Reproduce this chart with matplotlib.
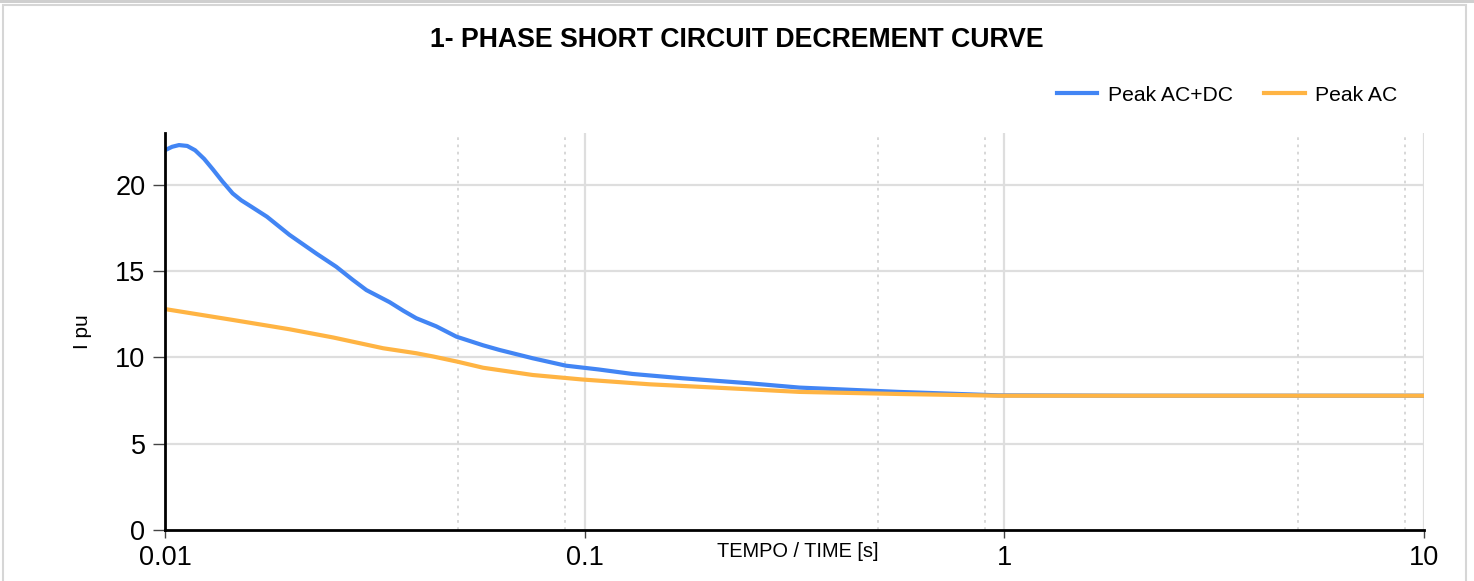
import numpy as np
import matplotlib as mpl
mpl.use('Agg')
from matplotlib import pyplot as plt
from matplotlib.patches import Rectangle

plt.rcParams['font.family'] = ['Liberation Sans', 'DejaVu Sans']

# time [s] and current [pu]
t_acdc = [0.0100, 0.0104, 0.0108, 0.0113, 0.0118, 0.0124, 0.0130, 0.0137, 0.0145,
          0.0152, 0.0159, 0.0175, 0.0198, 0.0230, 0.0256, 0.0280, 0.0302, 0.0343,
          0.0370, 0.0397, 0.0443, 0.0495, 0.0573, 0.0627, 0.0752, 0.0902, 0.108,
          0.130, 0.171, 0.247, 0.325, 0.56, 0.97, 2.0, 5.0, 10.0]
i_acdc = [22.0, 22.2, 22.3, 22.25, 22.0, 21.5, 20.9, 20.2, 19.5,
          19.1, 18.8, 18.15, 17.1, 16.0, 15.25, 14.5, 13.9, 13.2,
          12.7, 12.27, 11.8, 11.2, 10.7, 10.43, 9.95, 9.52, 9.3,
          9.04, 8.79, 8.5, 8.25, 8.0, 7.8, 7.78, 7.78, 7.78]

t_ac = [0.0100, 0.0145, 0.0198, 0.0252, 0.0331, 0.0397, 0.0436, 0.0498, 0.0573,
        0.0687, 0.0752, 0.0986, 0.143, 0.247, 0.325, 0.56, 0.97, 2.0, 5.0, 10.0]
i_ac = [12.8, 12.17, 11.63, 11.15, 10.53, 10.24, 10.05, 9.75, 9.4,
        9.12, 8.98, 8.72, 8.44, 8.15, 8.0, 7.88, 7.78, 7.78, 7.78, 7.78]

series = ['Peak AC+DC', 'Peak AC']
colors = ['#4285F4', '#FFB443']

major_x = [0.01, 0.1, 1, 10]
major_lbl = ['0.01', '0.1', '1', '10']
minor_x = [0.05, 0.09, 0.5, 0.9, 5, 9]
y_ticks = [0, 5, 10, 15, 20]

fig = plt.figure(figsize=(14.74, 5.81), dpi=100)
ax = fig.add_axes([0.1119, 0.0878, 0.8541, 0.6833])

# outer frame of the chart card
fig.patches.append(Rectangle((3 / 1474, -0.01), 1463 / 1474, 1 - 5 / 581 + 0.01,
                             transform=fig.transFigure, fill=False,
                             edgecolor='#d6d6d6', lw=1.5))
fig.patches.append(Rectangle((0, 1 - 3 / 581), 1, 3 / 581, transform=fig.transFigure,
                             facecolor='#cfcfcf', edgecolor='none'))

ax.set_xscale('log')
ax.set_xlim(0.01, 10)
ax.set_ylim(0, 23)

for y in y_ticks[1:]:
    ax.axhline(y, color='#dedede', lw=1.6, zorder=0)
for x in major_x[1:]:
    ax.axvline(x, color='#dedede', lw=1.6, zorder=0)
for x in minor_x:
    ax.axvline(x, color='#d4d4d4', lw=1.3, ls=(0, (1.5, 2.5)), zorder=0)

ax.plot(t_acdc, i_acdc, color=colors[0], lw=3, label=series[0], solid_joinstyle='round')
ax.plot(t_ac, i_ac, color=colors[1], lw=3, label=series[1], solid_joinstyle='round')

ax.set_xticks(major_x)
ax.set_xticklabels(major_lbl)
ax.xaxis.set_minor_locator(mpl.ticker.NullLocator())
ax.set_yticks(y_ticks)
ax.tick_params(axis='y', length=9, width=1, color='#444444', labelsize=19.5, pad=5)
ax.tick_params(axis='x', length=6, width=1, color='#444444', labelsize=19.5, pad=5)

for s in ['top', 'right']:
    ax.spines[s].set_visible(False)
for s in ['left', 'bottom']:
    ax.spines[s].set_linewidth(2)
    ax.spines[s].set_color('black')

ax.set_xlabel('TEMPO / TIME [s]', fontsize=14.4)
ax.xaxis.set_label_coords(0.503, -0.03)
ax.set_ylabel('I pu', fontsize=15)
ax.yaxis.set_label_coords(-0.058, 0.5)

fig.text(0.5, 0.931, '1- PHASE SHORT CIRCUIT DECREMENT CURVE', ha='center', va='center',
         fontsize=19.2, fontweight='bold')

fig.legend(loc='center right', bbox_to_anchor=(0.948, 1 - 95 / 581), ncol=2, frameon=False,
           fontsize=15.2, handlelength=1.9, handletextpad=0.5, columnspacing=1.5,
           borderpad=0, borderaxespad=0)

plt.savefig('out.png', dpi=100)
